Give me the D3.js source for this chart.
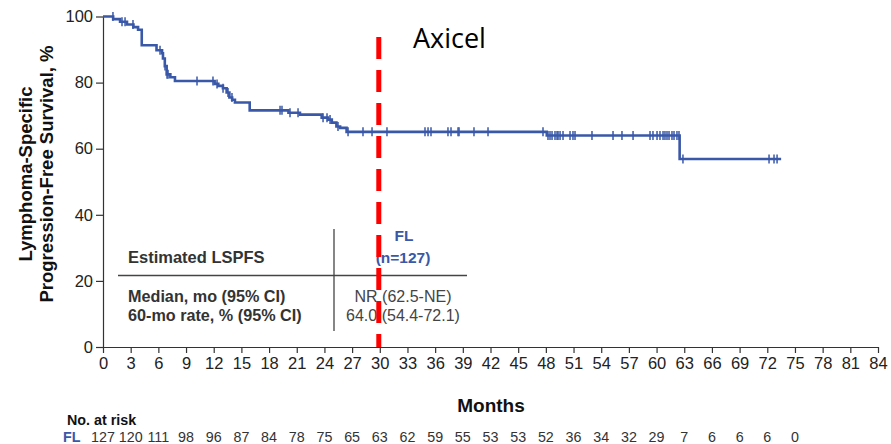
<!DOCTYPE html>
<html><head><meta charset="utf-8">
<script src="https://cdn.jsdelivr.net/npm/d3@7"></script>
<style>
html,body{margin:0;padding:0;background:#fff;}
svg{display:block;font-family:"Liberation Sans",Arial,sans-serif;}
</style></head>
<body>
<svg id="chart" width="891" height="444"></svg>
<script>
// ---- data ----
const eventMonths = [1.1, 1.85, 2.6, 3.3, 3.8, 4.2, 5.8, 6.4, 6.5, 6.7, 6.9, 7.3, 7.8,
  12.1, 12.5, 13.0, 13.4, 13.7, 14.0, 14.3, 15.9, 20.1, 21.35, 23.7, 24.4, 24.8, 25.3, 25.7, 26.4,
  48.1, 62.5];
const eventSurv = [99.2, 98.4, 97.6, 96.8, 96.0, 91.3, 89.8, 88.9, 87.3, 85.0, 82.5, 81.6, 80.5,
  79.6, 79.0, 78.3, 77.0, 75.5, 74.8, 74.0, 71.6, 70.9, 70.3, 69.4, 68.8, 67.9, 66.7, 66.3, 65.1,
  64.0, 56.9];
const lastFollowUp = 73.5;
const censorMonths = [1.08, 2.06, 2.39, 3.25, 6.18, 6.72, 6.94, 7.05, 10.19, 11.92, 12.36, 13.01,
  13.55, 13.98, 19.19, 19.40, 20.27, 21.14, 23.85, 24.28, 24.61, 25.47, 26.56, 28.18, 29.16, 30.78,
  34.90, 35.23, 35.55, 37.39, 37.72, 38.48, 38.59, 40.21, 41.73, 47.69, 48.23, 48.45, 48.67, 48.99,
  49.21, 49.32, 49.54, 49.86, 50.62, 50.94, 51.16, 53.00, 55.28, 56.25, 57.45, 59.29, 59.61, 60.05,
  60.37, 60.70, 60.91, 61.13, 61.35, 61.67, 61.89, 62.21, 62.43, 62.86, 72.19, 72.73, 73.06];
const xTicks = d3.range(0, 85, 3);
const yTicks = [0, 20, 40, 60, 80, 100];
const riskMonths = d3.range(0, 76, 3);
const riskFL = [127, 120, 111, 98, 96, 87, 84, 78, 75, 65, 63, 62, 59, 55, 53, 53, 52, 36, 34, 32, 29, 7, 6, 6, 6, 0];
const tableRows = ["Median, mo (95% CI)", "60-mo rate, % (95% CI)"];
const tableValues = ["NR (62.5-NE)", "64.0 (54.4-72.1)"];
const refLineMonth = 30;

// ---- drawing ----
const blue = "#3a58a8";
const svg = d3.select("#chart");
const x = d3.scaleLinear().domain([0, 84]).range([103, 878]);
const y = d3.scaleLinear().domain([0, 100]).range([347, 16.5]);

// axes
const xAxis = svg.append("g").attr("transform", `translate(0,${y(0)})`)
  .call(d3.axisBottom(x).tickValues(xTicks).tickSize(6).tickSizeOuter(0).tickPadding(4));
const yAxis = svg.append("g").attr("transform", `translate(${x(0)},0)`)
  .call(d3.axisLeft(y).tickValues(yTicks).tickSize(7).tickSizeOuter(0).tickPadding(3));
[xAxis, yAxis].forEach(g => {
  g.selectAll("path,line").attr("stroke", "#333").attr("stroke-width", 1.2);
  g.selectAll("text").attr("fill", "#222").style("font-size", "16.5px")
    .style("font-family", '"Liberation Sans",Arial,sans-serif');
});

// survival curve
const pts = [[0, 100]];
eventMonths.forEach((m, i) => pts.push([m, eventSurv[i]]));
pts.push([lastFollowUp, eventSurv[eventSurv.length - 1]]);
const line = d3.line().x(d => x(d[0])).y(d => y(d[1])).curve(d3.curveStepAfter);
svg.append("path").datum(pts).attr("d", line).attr("fill", "none")
  .attr("stroke", blue).attr("stroke-width", 2.6);

function survAt(t) {
  let s = 100;
  for (let i = 0; i < eventMonths.length; i++) if (eventMonths[i] <= t) s = eventSurv[i];
  return s;
}
svg.append("g").selectAll("line").data(censorMonths).join("line")
  .attr("x1", d => x(d)).attr("x2", d => x(d))
  .attr("y1", d => y(survAt(d)) - 4.5).attr("y2", d => y(survAt(d)) + 4.5)
  .attr("stroke", blue).attr("stroke-width", 1.5);

// table
const tbl = svg.append("g");
tbl.append("line").attr("x1", 118).attr("x2", 467).attr("y1", 275.5).attr("y2", 275.5)
  .attr("stroke", "#444").attr("stroke-width", 1.3);
tbl.append("line").attr("x1", 334).attr("x2", 334).attr("y1", 229).attr("y2", 331)
  .attr("stroke", "#444").attr("stroke-width", 1.3);
tbl.append("text").attr("x", 128).attr("y", 263).text("Estimated LSPFS")
  .style("font-size", "16.5px").style("font-weight", "bold").attr("fill", "#333");
tbl.append("text").attr("x", 404).attr("y", 241).attr("text-anchor", "middle").text("FL")
  .style("font-size", "15.5px").style("font-weight", "bold").attr("fill", blue);
tbl.append("text").attr("x", 403).attr("y", 263).attr("text-anchor", "middle").text("(n=127)")
  .style("font-size", "15.5px").style("font-weight", "bold").attr("fill", blue);
tableRows.forEach((r, i) => {
  tbl.append("text").attr("x", 128).attr("y", 302 + i * 19).text(r)
    .style("font-size", "16.2px").style("font-weight", "bold").attr("fill", "#333");
  tbl.append("text").attr("x", 403).attr("y", 302 + i * 19).attr("text-anchor", "middle").text(tableValues[i])
    .style("font-size", "16px").attr("fill", "#444");
});

// red dashed reference line
svg.append("line").attr("x1", x(refLineMonth) - 1).attr("x2", x(refLineMonth) - 1)
  .attr("y1", 37).attr("y2", y(0))
  .attr("stroke", "#ff0000").attr("stroke-width", 5).attr("stroke-dasharray", "22,11");

svg.append("text").attr("x", 413).attr("y", 48).text("Axicel")
  .style("font-size", "27px").style("font-family", '"Open Sans","Liberation Sans",Arial,sans-serif').attr("fill", "#000");

// axis titles
svg.append("text").attr("x", 491).attr("y", 412).attr("text-anchor", "middle").text("Months")
  .style("font-size", "19px").style("font-weight", "bold").attr("fill", "#111");
const yt = svg.append("text").attr("transform", "translate(0,174) rotate(-90)")
  .attr("text-anchor", "middle").style("font-size", "18.5px").style("font-weight", "bold").attr("fill", "#111");
yt.append("tspan").attr("x", 0).attr("y", 32).text("Lymphoma-Specific");
yt.append("tspan").attr("x", 0).attr("y", 53).text("Progression-Free Survival, %");

// risk table
svg.append("text").attr("x", 67).attr("y", 425).text("No. at risk")
  .style("font-size", "14.3px").style("font-weight", "bold").attr("fill", "#111");
svg.append("text").attr("x", 63).attr("y", 442).text("FL")
  .style("font-size", "14.3px").style("font-weight", "bold").attr("fill", blue);
svg.append("g").selectAll("text").data(riskFL).join("text")
  .attr("x", (d, i) => x(riskMonths[i])).attr("y", 442).attr("text-anchor", "middle")
  .text(d => d).style("font-size", "14.3px").attr("fill", "#333");
</script>
</body></html>
